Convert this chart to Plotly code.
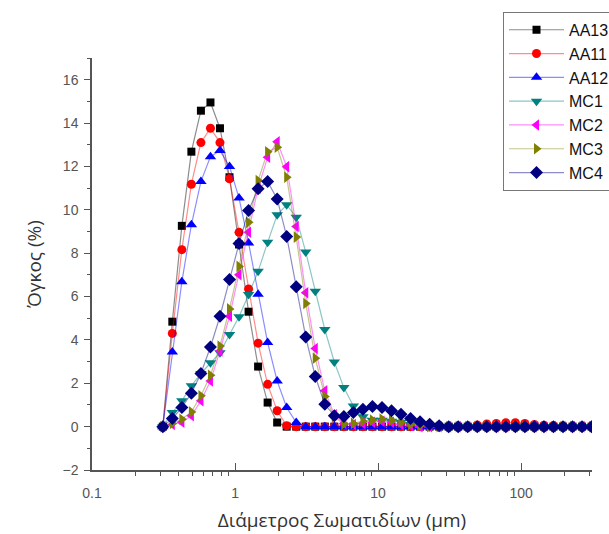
import plotly.graph_objects as go

# Particle diameter grid (µm)
diam = [0.3126, 0.3643, 0.4247, 0.4951, 0.5771, 0.6730, 0.7844, 0.9145, 1.066, 1.243,
        1.449, 1.689, 1.969, 2.295, 2.676, 3.119, 3.636, 4.239, 4.941, 5.760,
        6.714, 7.828, 9.125, 10.64, 12.40, 14.45, 16.85, 19.64, 22.90, 26.69,
        31.12, 36.27, 42.29, 49.30, 57.46, 66.99, 78.09, 91.04, 106.1, 123.7,
        144.2, 168.1, 196.0, 228.5, 266.3, 310.5]

AA13 = [0, 4.84, 9.26, 12.68, 14.57, 14.95, 13.76, 11.5, 8.4, 5.3, 2.77, 1.11, 0.19] + [0] * 33
AA11 = ([0, 4.3, 8.16, 11.18, 13.1, 13.76, 13.1, 11.43, 8.96, 6.35, 3.85, 1.95, 0.73, 0.04]
        + [0] * 19 + [0.08, 0.12, 0.15, 0.18, 0.18, 0.15, 0.1] + [0.06, 0.04, 0.03, 0.02, 0.02, 0.02])
AA12 = [0, 3.44, 6.68, 9.31, 11.3, 12.45, 12.73, 12.0, 10.54, 8.47, 6.1, 3.88, 2.1, 0.88, 0.19] + [0] * 31
MC1 = ([0, 0.65, 1.19, 1.88, 2.45, 2.95, 3.41, 4.25, 5.07, 6.09, 7.16, 8.5, 9.77, 10.23, 9.66, 8.05,
        6.24, 4.48, 2.98, 1.8, 0.95, 0.45, 0.3, 0.3, 0.25, 0.2, 0.1, 0.05] + [0] * 18)
MC2 = ([0, 0.1, 0.2, 0.5, 1.19, 2.1, 3.49, 5.09, 7.01, 8.96, 11.0, 12.42, 13.14, 11.99, 9.23, 6.17,
        3.6, 1.65, 0.55, 0.15, 0.1, 0.15, 0.2, 0.25, 0.2, 0.1, 0.05] + [0] * 19)
MC3 = ([0, 0.15, 0.34, 0.68, 1.42, 2.37, 3.72, 5.43, 7.39, 9.42, 11.35, 12.68, 12.88, 11.5, 8.74, 5.68,
        3.15, 1.39, 0.45, 0.12, 0.15, 0.25, 0.3, 0.35, 0.3, 0.2, 0.1, 0.05] + [0] * 18)
MC4 = ([0, 0.37, 0.88, 1.54, 2.45, 3.67, 5.09, 6.78, 8.44, 9.97, 10.97, 11.3, 10.5, 8.77, 6.45, 4.13,
        2.31, 1.03, 0.5, 0.47, 0.65, 0.8, 0.93, 0.88, 0.73, 0.57, 0.38, 0.22, 0.11, 0.04] + [0] * 16)

names = ["AA13", "AA11", "AA12", "MC1", "MC2", "MC3", "MC4"]
series = [AA13, AA11, AA12, MC1, MC2, MC3, MC4]
colors = ["#000000", "#FF0000", "#0000FF", "#008080", "#FF00FF", "#808000", "#000080"]
line_colors = ["rgba(0,0,0,0.45)", "rgba(255,0,0,0.45)", "rgba(0,0,255,0.45)", "rgba(0,128,128,0.45)",
               "rgba(255,0,255,0.45)", "rgba(128,128,0,0.45)", "rgba(0,0,128,0.45)"]
symbols = ["square", "circle", "triangle-up", "triangle-down", "triangle-left", "triangle-right", "diamond"]
sizes = [8, 9, 10, 10, 10, 10, 10]

fig = go.Figure()
for n, s, c, lc, sym, sz in zip(names, series, colors, line_colors, symbols, sizes):
    fig.add_trace(go.Scatter(
        x=diam, y=s, name=n, mode="lines+markers",
        line=dict(color=lc, width=1.2),
        marker=dict(symbol=sym, size=sz, color=c, line=dict(width=0)),
    ))

axis_font = dict(family="Liberation Sans, Arial, sans-serif", size=14, color="#555555")
fig.update_layout(
    width=609, height=534,
    margin=dict(l=92, r=17, t=58, b=64, autoexpand=False),
    paper_bgcolor="white", plot_bgcolor="white",
    showlegend=True,
    legend=dict(
        x=0.822, y=1.112, xanchor="left", yanchor="top",
        bgcolor="white", bordercolor="#777777", borderwidth=1,
        font=dict(family="Liberation Sans, Arial, sans-serif", size=16, color="#111111"),
        itemwidth=55,
    ),
    xaxis=dict(
        type="log", range=[-1, 2.495],
        showgrid=False, zeroline=False,
        showline=True, linecolor="#555555", linewidth=1.5,
        ticks="inside", ticklen=7, tickwidth=1.3, tickcolor="#555555",
        tickvals=[0.1, 1, 10, 100], ticktext=["0.1", "1", "10", "100"],
        tickfont=axis_font, ticklabelstandoff=9,
        minor=dict(ticks="outside", ticklen=4, tickwidth=1.2, tickcolor="#555555",
                   tickvals=[0.2, 0.3, 0.4, 0.5, 0.6, 0.7, 0.8, 0.9,
                             2, 3, 4, 5, 6, 7, 8, 9,
                             20, 30, 40, 50, 60, 70, 80, 90, 200, 300]),
        title=dict(text="Διάμετρος Σωματιδίων (μm)",
                   font=dict(family="Open Sans, Noto Sans, sans-serif", size=19, color="#333333"),
                   standoff=14),
    ),
    yaxis=dict(
        range=[-2, 17],
        showgrid=False, zeroline=False,
        showline=True, linecolor="#555555", linewidth=1.5,
        ticks="outside", ticklen=6, tickwidth=1.3, tickcolor="#555555",
        tickvals=[-2, 0, 2, 4, 6, 8, 10, 12, 14, 16],
        tickfont=axis_font, ticklabelstandoff=3,
        minor=dict(ticks="outside", ticklen=3, tickwidth=1.2, tickcolor="#555555",
                   tickvals=[-1, 1, 3, 5, 7, 9, 11, 13, 15, 17]),
        title=dict(text="Όγκος (%)",
                   font=dict(family="Open Sans, Noto Sans, sans-serif", size=19, color="#333333"),
                   standoff=16),
    ),
)

fig.write_html("out.html")
